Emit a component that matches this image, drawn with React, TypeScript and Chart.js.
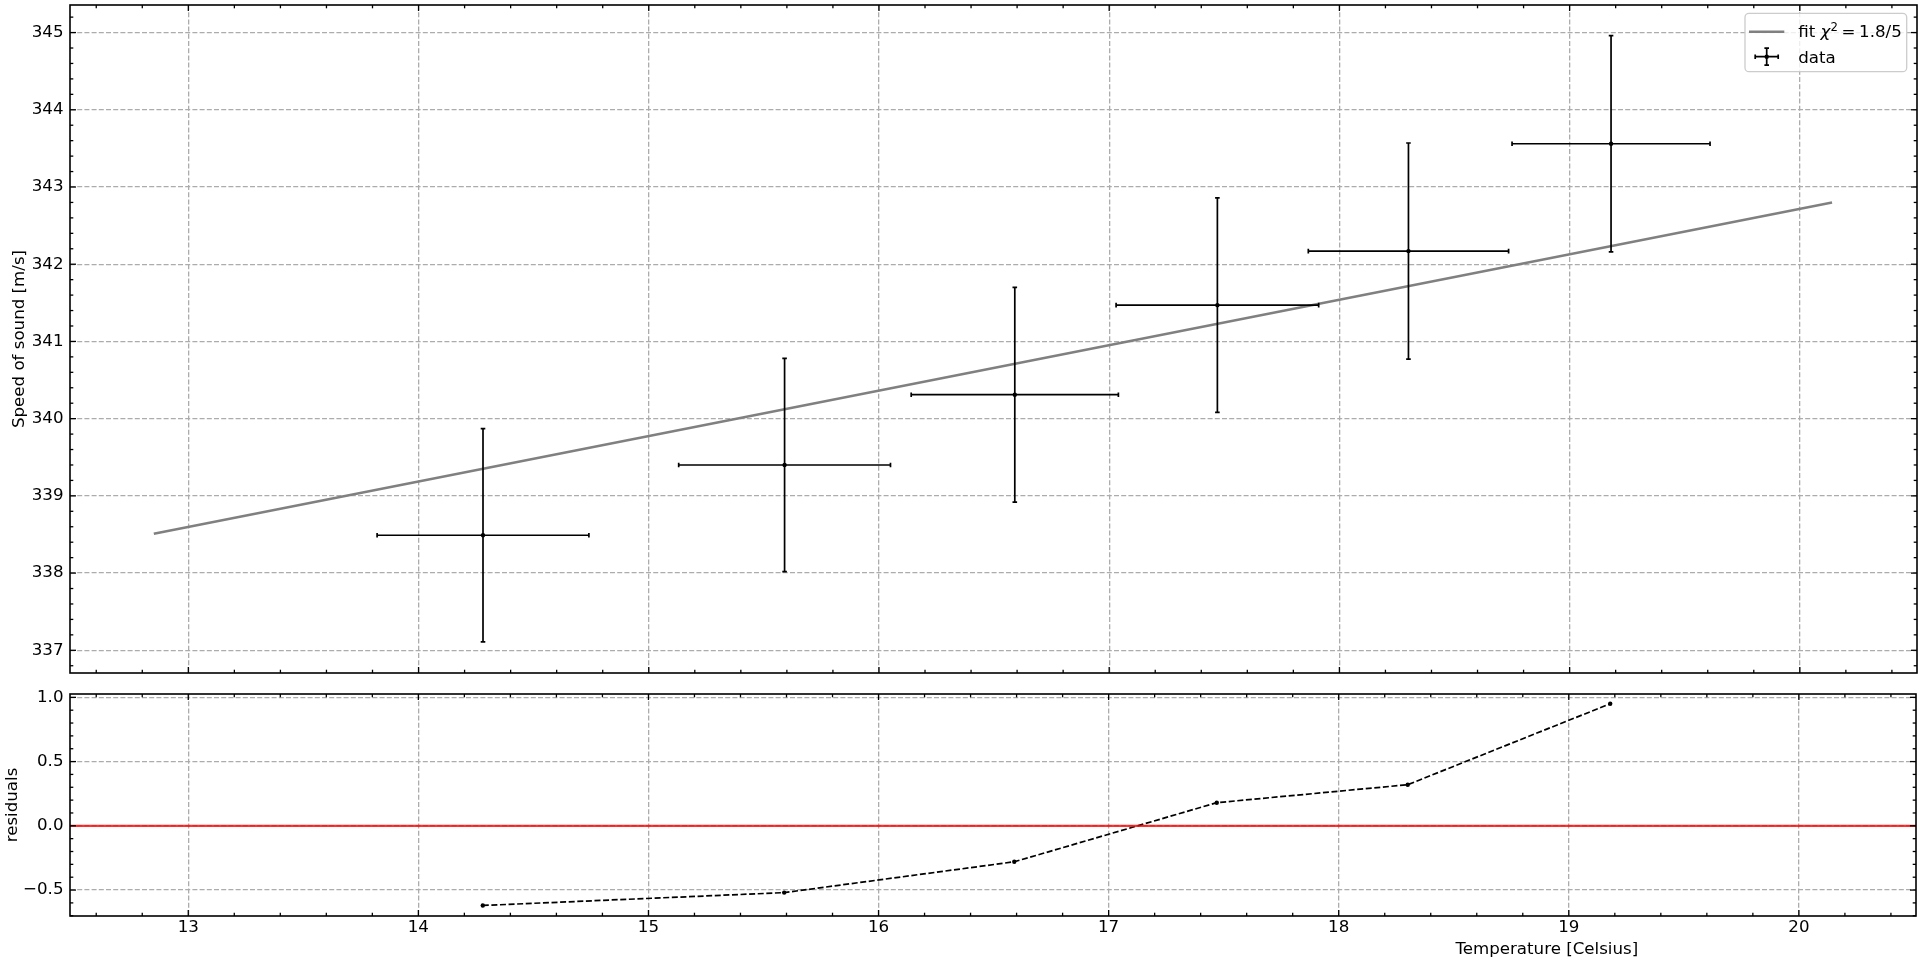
import React, { useEffect, useRef } from "react";
import { Chart, registerables } from "chart.js";
Chart.register(...registerables);

// ---- data ----
const temperatures = [14.28, 15.59, 16.59, 17.47, 18.3, 19.18];
const speeds = [338.49, 339.4, 340.31, 341.47, 342.17, 343.56];
const temperatureErrors = [0.46, 0.46, 0.45, 0.44, 0.435, 0.43];
const speedErrors = [1.38, 1.38, 1.39, 1.39, 1.4, 1.4];
const residuals = [-0.62, -0.52, -0.28, 0.18, 0.32, 0.95];
const fitTemperatures = [12.85, 20.14];
const fitSpeeds = [338.51, 342.8];

// ---- axes ----
const xTicks = [13, 14, 15, 16, 17, 18, 19, 20];
const speedTicks = [337, 338, 339, 340, 341, 342, 343, 344, 345];
const residualTicks = [-0.5, 0, 0.5, 1.0];
const xRange = [12.486, 20.509];
const speedRange = [336.706, 345.357];
const residualRange = [-0.702, 1.026];

const FONT = "DejaVu Sans";
const FS = 16.67;
const GRID = "#acacac";

function frameAndTicks(xStep: number, yStep: number) {
  return {
    id: "frameTicks",
    afterDraw(chart: any) {
      const { ctx, chartArea: a } = chart;
      const xs = chart.scales.x;
      const ys = chart.scales.y;
      const xMaj = xs.ticks.map((t: any) => t.value);
      const yMaj = ys.ticks.map((t: any) => t.value);
      ctx.save();
      ctx.strokeStyle = "#000";
      ctx.lineWidth = 1.3;
      const seg = (x1: number, y1: number, x2: number, y2: number) => {
        ctx.beginPath();
        ctx.moveTo(x1, y1);
        ctx.lineTo(x2, y2);
        ctx.stroke();
      };
      const minors = (min: number, max: number, step: number, maj: number[]) => {
        const out: number[] = [];
        for (let k = Math.ceil(min / step - 1e-9); k * step <= max + 1e-9; k++) {
          const v = k * step;
          if (!maj.some((m) => Math.abs(m - v) < step / 10)) out.push(v);
        }
        return out;
      };
      const xTick = (v: number, len: number) => {
        const p = xs.getPixelForValue(v);
        seg(p, a.bottom, p, a.bottom - len);
        seg(p, a.top, p, a.top + len);
      };
      const yTick = (v: number, len: number) => {
        const p = ys.getPixelForValue(v);
        seg(a.left, p, a.left + len, p);
        seg(a.right, p, a.right - len, p);
      };
      xMaj.forEach((v: number) => xTick(v, 6));
      minors(xs.min, xs.max, xStep, xMaj).forEach((v) => xTick(v, 3.3));
      yMaj.forEach((v: number) => yTick(v, 6));
      minors(ys.min, ys.max, yStep, yMaj).forEach((v) => yTick(v, 3.3));
      ctx.lineWidth = 1.6;
      ctx.strokeRect(a.left, a.top, a.right - a.left, a.bottom - a.top);
      ctx.restore();
    },
  };
}

const errorBars = {
  id: "errorBars",
  afterDatasetsDraw(chart: any) {
    const { ctx, chartArea: a } = chart;
    const xs = chart.scales.x;
    const ys = chart.scales.y;
    ctx.save();
    ctx.beginPath();
    ctx.rect(a.left, a.top, a.right - a.left, a.bottom - a.top);
    ctx.clip();
    ctx.strokeStyle = "#000";
    ctx.lineWidth = 1.7;
    const cap = 2.3;
    temperatures.forEach((t, i) => {
      const px = xs.getPixelForValue(t);
      const py = ys.getPixelForValue(speeds[i]);
      const x1 = xs.getPixelForValue(t - temperatureErrors[i]);
      const x2 = xs.getPixelForValue(t + temperatureErrors[i]);
      const y1 = ys.getPixelForValue(speeds[i] + speedErrors[i]);
      const y2 = ys.getPixelForValue(speeds[i] - speedErrors[i]);
      ctx.beginPath();
      ctx.moveTo(x1, py);
      ctx.lineTo(x2, py);
      ctx.moveTo(px, y1);
      ctx.lineTo(px, y2);
      ctx.moveTo(x1, py - cap);
      ctx.lineTo(x1, py + cap);
      ctx.moveTo(x2, py - cap);
      ctx.lineTo(x2, py + cap);
      ctx.moveTo(px - cap, y1);
      ctx.lineTo(px + cap, y1);
      ctx.moveTo(px - cap, y2);
      ctx.lineTo(px + cap, y2);
      ctx.stroke();
      ctx.fillStyle = "#000";
      ctx.beginPath();
      ctx.arc(px, py, 2.2, 0, Math.PI * 2);
      ctx.fill();
    });
    ctx.restore();
  },
};

const legendBox = {
  id: "legendBox",
  afterDraw(chart: any) {
    const { ctx, chartArea: a } = chart;
    const right = a.right - 10.3;
    const top = a.top + 8.3;
    const w = 161.7;
    const h = 58.4;
    const left = right - w;
    ctx.save();
    ctx.beginPath();
    (ctx as any).roundRect(left, top, w, h, 4);
    ctx.fillStyle = "rgba(255,255,255,0.8)";
    ctx.fill();
    ctx.strokeStyle = "#cccccc";
    ctx.lineWidth = 1.3;
    ctx.stroke();
    // entry 1: fit line
    const y1 = top + 18.4;
    ctx.strokeStyle = "#808080";
    ctx.lineWidth = 2.5;
    ctx.beginPath();
    ctx.moveTo(left + 4, y1);
    ctx.lineTo(left + 39.3, y1);
    ctx.stroke();
    let tx = left + 53.3;
    const base1 = top + 24;
    ctx.fillStyle = "#000";
    ctx.textBaseline = "alphabetic";
    ctx.textAlign = "left";
    ctx.font = `${FS}px "${FONT}"`;
    ctx.fillText("fit ", tx, base1);
    tx += ctx.measureText("fit ").width;
    ctx.font = `italic ${FS}px "${FONT}"`;
    ctx.fillText("χ", tx, base1);
    tx += ctx.measureText("χ").width;
    ctx.font = `${FS * 0.7}px "${FONT}"`;
    ctx.fillText("2", tx, base1 - 6.8);
    tx += ctx.measureText("2").width + 3.6;
    ctx.font = `${FS}px "${FONT}"`;
    ctx.fillText("=", tx, base1);
    tx += ctx.measureText("=").width + 3.6;
    ctx.fillText("1.8/5", tx, base1);
    // entry 2: data errorbar symbol
    const cx = left + 21.7;
    const y2 = top + 43.4;
    ctx.strokeStyle = "#000";
    ctx.lineWidth = 1.7;
    ctx.beginPath();
    ctx.moveTo(cx - 11.5, y2);
    ctx.lineTo(cx + 11.5, y2);
    ctx.moveTo(cx, y2 - 8.5);
    ctx.lineTo(cx, y2 + 8.5);
    ctx.moveTo(cx - 11.5, y2 - 2.3);
    ctx.lineTo(cx - 11.5, y2 + 2.3);
    ctx.moveTo(cx + 11.5, y2 - 2.3);
    ctx.lineTo(cx + 11.5, y2 + 2.3);
    ctx.moveTo(cx - 2.3, y2 - 8.5);
    ctx.lineTo(cx + 2.3, y2 - 8.5);
    ctx.moveTo(cx - 2.3, y2 + 8.5);
    ctx.lineTo(cx + 2.3, y2 + 8.5);
    ctx.stroke();
    ctx.beginPath();
    ctx.arc(cx, y2, 2.2, 0, Math.PI * 2);
    ctx.fill();
    ctx.fillText("data", left + 53.3, top + 49.2);
    ctx.restore();
  },
};

const xTitle = {
  id: "xTitle",
  afterDraw(chart: any) {
    const { ctx, chartArea: a } = chart;
    ctx.save();
    ctx.font = `${FS}px "${FONT}"`;
    ctx.fillStyle = "#000";
    ctx.textAlign = "center";
    ctx.textBaseline = "alphabetic";
    ctx.fillText("Temperature [Celsius]", a.left + 0.8 * (a.right - a.left), a.bottom + 38);
    ctx.restore();
  },
};

const tickFont = { family: FONT, size: FS };

export default function App() {
  const topRef = useRef<HTMLCanvasElement>(null);
  const botRef = useRef<HTMLCanvasElement>(null);

  useEffect(() => {
    Chart.defaults.font.family = FONT;
    const top = new Chart(topRef.current!, {
      type: "scatter",
      data: {
        datasets: [
          {
            label: "fit",
            data: fitTemperatures.map((x, i) => ({ x, y: fitSpeeds[i] })),
            showLine: true,
            borderColor: "#808080",
            borderWidth: 2.5,
            pointRadius: 0,
          },
          {
            label: "data",
            data: temperatures.map((x, i) => ({ x, y: speeds[i] })),
            pointRadius: 0,
            backgroundColor: "#000",
            borderWidth: 0,
          },
        ],
      },
      options: {
        animation: false,
        responsive: false,
        devicePixelRatio: 1,
        events: [],
        layout: { padding: { top: 5, left: 0, right: 3, bottom: 7 } },
        plugins: { legend: { display: false }, tooltip: { enabled: false } },
        scales: {
          x: {
            type: "linear",
            min: xRange[0],
            max: xRange[1],
            afterBuildTicks: (s: any) => {
              s.ticks = xTicks.map((v) => ({ value: v }));
            },
            afterFit: (s: any) => {
              s.height = 0;
              s.paddingLeft = 0;
              s.paddingRight = 0;
            },
            ticks: { display: false, autoSkip: false },
            grid: { color: GRID, lineWidth: 1.3, drawTicks: false },
            border: { display: false, dash: [5, 2.2] },
          },
          y: {
            type: "linear",
            min: speedRange[0],
            max: speedRange[1],
            afterBuildTicks: (s: any) => {
              s.ticks = speedTicks.map((v) => ({ value: v }));
            },
            afterFit: (s: any) => {
              s.width = 70;
              s.paddingTop = 0;
              s.paddingBottom = 0;
            },
            ticks: {
              autoSkip: false,
              padding: 6.5,
              color: "#000",
              font: tickFont,
              callback: (v: any) => String(v),
            },
            grid: { color: GRID, lineWidth: 1.3, drawTicks: false },
            border: { display: false, dash: [5, 2.2] },
            title: {
              display: true,
              text: "Speed of sound [m/s]",
              color: "#000",
              font: { family: FONT, size: FS },
              padding: { top: 9.5, bottom: 0 },
            },
          },
        },
      },
      plugins: [errorBars, frameAndTicks(0.2, 0.2), legendBox],
    } as any);

    const bot = new Chart(botRef.current!, {
      type: "scatter",
      data: {
        datasets: [
          {
            label: "zero",
            data: xRange.map((x) => ({ x, y: 0 })),
            showLine: true,
            borderColor: "rgba(255,0,0,0.8)",
            borderWidth: 2.2,
            pointRadius: 0,
          },
          {
            label: "residuals",
            data: temperatures.map((x, i) => ({ x, y: residuals[i] })),
            showLine: true,
            borderColor: "#000",
            borderWidth: 1.7,
            borderDash: [6, 2.6],
            pointRadius: 2.2,
            pointBackgroundColor: "#000",
            pointBorderWidth: 0,
          },
        ],
      },
      options: {
        animation: false,
        responsive: false,
        devicePixelRatio: 1,
        events: [],
        layout: { padding: { top: 14, left: 0, right: 3, bottom: 0 } },
        plugins: { legend: { display: false }, tooltip: { enabled: false } },
        scales: {
          x: {
            type: "linear",
            min: xRange[0],
            max: xRange[1],
            afterBuildTicks: (s: any) => {
              s.ticks = xTicks.map((v) => ({ value: v }));
            },
            afterFit: (s: any) => {
              s.height = 45;
              s.paddingLeft = 0;
              s.paddingRight = 0;
            },
            ticks: {
              autoSkip: false,
              maxRotation: 0,
              padding: 1.5,
              color: "#000",
              font: tickFont,
              callback: (v: any) => String(v),
            },
            grid: { color: GRID, lineWidth: 1.3, drawTicks: false },
            border: { display: false, dash: [5, 2.2] },
          },
          y: {
            type: "linear",
            min: residualRange[0],
            max: residualRange[1],
            afterBuildTicks: (s: any) => {
              s.ticks = residualTicks.map((v) => ({ value: v }));
            },
            afterFit: (s: any) => {
              s.width = 70;
              s.paddingTop = 0;
              s.paddingBottom = 0;
            },
            ticks: {
              autoSkip: false,
              padding: 6.5,
              color: "#000",
              font: tickFont,
              callback: (v: any) => (v < 0 ? "\u2212" : "") + Math.abs(v).toFixed(1),
            },
            grid: { color: GRID, lineWidth: 1.3, drawTicks: false },
            border: { display: false, dash: [5, 2.2] },
            title: {
              display: true,
              text: "residuals",
              color: "#000",
              font: { family: FONT, size: FS },
              padding: { top: 2.5, bottom: 0 },
            },
          },
        },
      },
      plugins: [frameAndTicks(0.2, 0.1), xTitle],
    } as any);

    return () => {
      top.destroy();
      bot.destroy();
    };
  }, []);

  return (
    <div style={{ position: "absolute", left: 0, top: 0, width: 1920, height: 961, background: "#fff" }}>
      <canvas
        ref={topRef}
        width={1920}
        height={680}
        style={{ position: "absolute", left: 0, top: 0, width: 1920, height: 680 }}
      />
      <canvas
        ref={botRef}
        width={1920}
        height={281}
        style={{ position: "absolute", left: 0, top: 680, width: 1920, height: 281 }}
      />
    </div>
  );
}
